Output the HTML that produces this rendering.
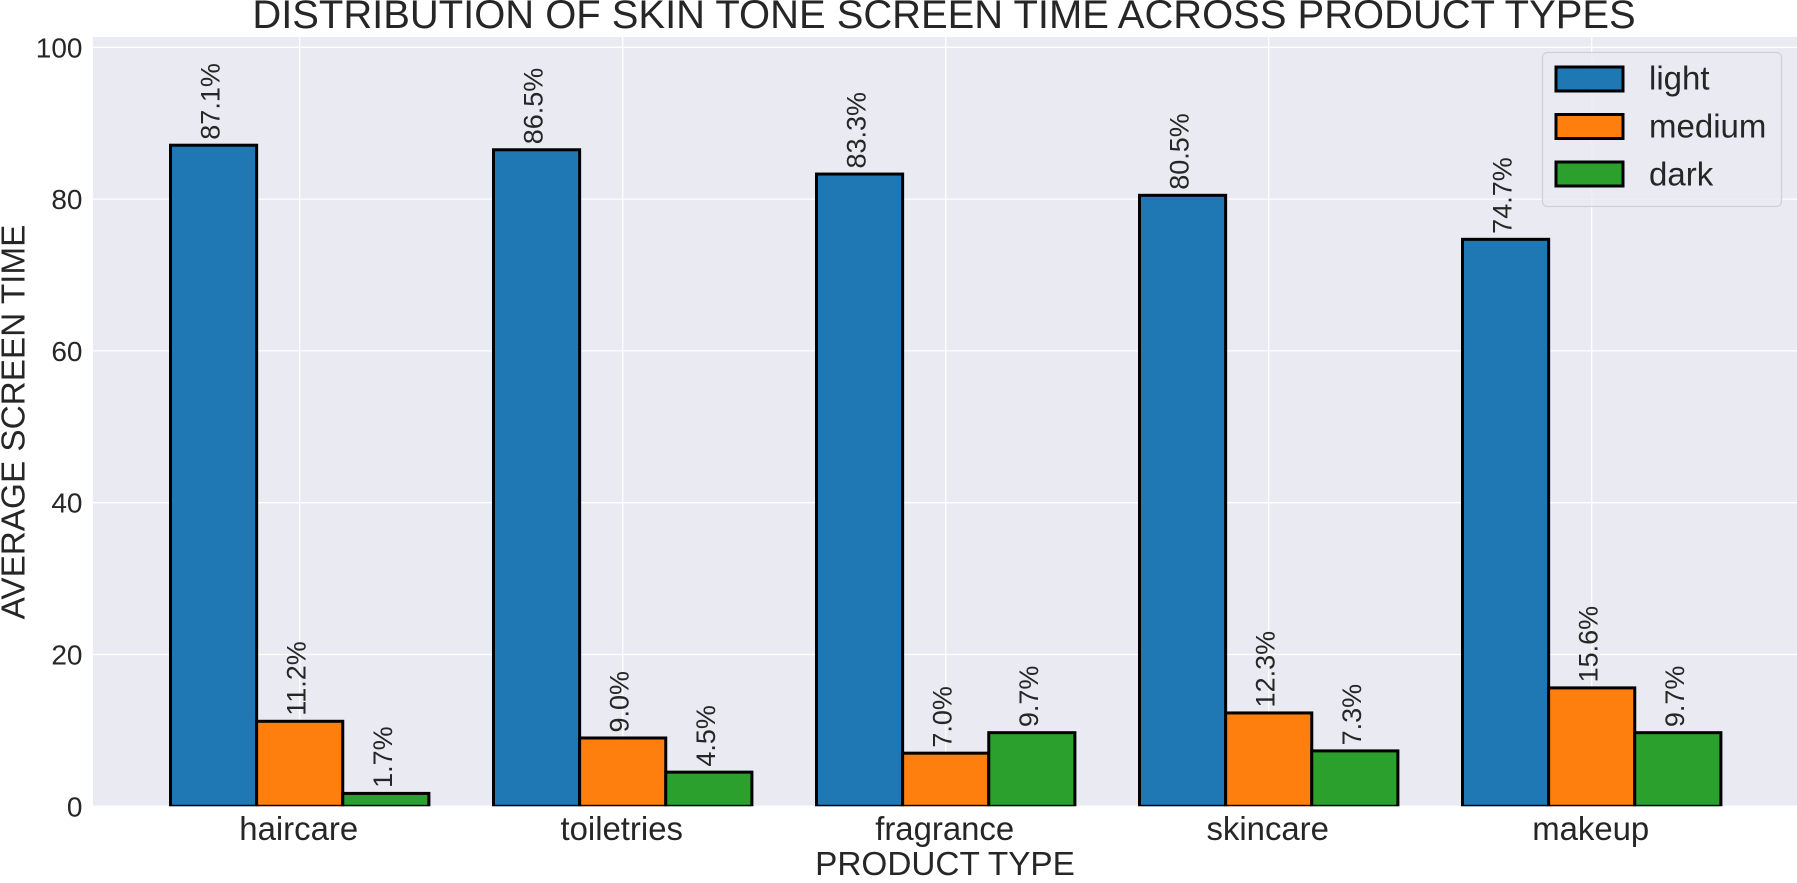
<!DOCTYPE html>
<html lang="en">
<head>
<meta charset="utf-8">
<title>Distribution of skin tone screen time across product types</title>
<style>
html,body{margin:0;padding:0;background:#fff;width:1797px;height:883px;overflow:hidden}
svg{display:block}
text{font-family:"Liberation Sans",Arial,sans-serif;fill:#262626}
</style>
</head>
<body>
<svg id="chart" xmlns="http://www.w3.org/2000/svg" width="1797" height="883" viewBox="0 0 1797 883">
  <defs><clipPath id="axes-clip"><rect x="93" y="37" width="1704" height="769.3"/></clipPath></defs>
  <rect x="93" y="37" width="1704" height="769.3" fill="#eaeaf2"/>
  <g id="grid"></g>
  <g id="bars" clip-path="url(#axes-clip)"></g>
  <g id="values"></g>
  <g id="yticks"></g>
  <g id="xticks"></g>
  <text x="944" y="28" font-size="39.95" text-anchor="middle">DISTRIBUTION OF SKIN TONE SCREEN TIME ACROSS PRODUCT TYPES</text>
  <text x="945" y="875" font-size="33.3" text-anchor="middle">PRODUCT TYPE</text>
  <text transform="translate(24.5 422) rotate(-90)" font-size="33.3" text-anchor="middle">AVERAGE SCREEN TIME</text>
  <g id="legend">
    <rect x="1542.5" y="52.5" width="239" height="154" rx="5" fill="#eaeaf2" fill-opacity="0.8" stroke="#cccccc" stroke-opacity="0.8" stroke-width="1.3"/>
  </g>
</svg>
<script>
const categories = ["haircare", "toiletries", "fragrance", "skincare", "makeup"];
const seriesNames = ["light", "medium", "dark"];
const light = [87.1, 86.5, 83.3, 80.5, 74.7];
const medium = [11.2, 9.0, 7.0, 12.3, 15.6];
const dark = [1.7, 4.5, 9.7, 7.3, 9.7];
const yTickValues = [0, 20, 40, 60, 80, 100];

const seriesValues = [light, medium, dark];
const colors = ["#1f77b4", "#ff7f0e", "#2ca02c"];
const NS = "http://www.w3.org/2000/svg";
const bandStep = 323;
const barWidth = bandStep * 0.8 / 3;
function xScale(i) { return 299.7 + bandStep * i; }
function yScale(v) { return 806.3 - v * 7.59; }
function make(tag, attrs, parent, txt) {
  const el = document.createElementNS(NS, tag);
  for (const k in attrs) el.setAttribute(k, attrs[k]);
  if (txt !== undefined) el.textContent = txt;
  parent.appendChild(el);
  return el;
}
const grid = document.getElementById("grid");
const bars = document.getElementById("bars");
const valuesG = document.getElementById("values");
const yticks = document.getElementById("yticks");
const xticks = document.getElementById("xticks");
const legend = document.getElementById("legend");

yTickValues.forEach(function (t) {
  const y = yScale(t);
  const line = make("line", {x1: 93, x2: 1797, y1: y, y2: y, stroke: "#fff", "stroke-width": 1.3}, grid);
  
  
  const lab = make("text", {x: 82.5, y: y + 10, "font-size": 28, "text-anchor": "end"}, yticks, String(t));
  
  
});

categories.forEach(function (c, i) {
  const x = xScale(i);
  const line = make("line", {x1: x, x2: x, y1: 37, y2: 806.3, stroke: "#fff", "stroke-width": 1.3}, grid);
  
  
  const lab = make("text", {x: x - 1, y: 840, "font-size": 32.9, "text-anchor": "middle"}, xticks, c);
  
  
});

seriesValues.forEach(function (vals, s) {
  vals.forEach(function (v, i) {
    const cx = xScale(i) + (s - 1) * barWidth;
    const top = yScale(v);
    const bar = make("rect", {x: cx - barWidth / 2, y: top, width: barWidth, height: yScale(0) - top, fill: colors[s], stroke: "#000", "stroke-width": 3}, bars);
    
    
    const bx = cx + 6;
    const by = top - 5.5;
    const lab = make("text", {transform: "translate(" + bx + " " + by + ") rotate(-90)", "font-size": 27}, valuesG, v.toFixed(1) + "%");
    
    
  });
});

seriesNames.forEach(function (n, s) {
  const top = 67 + s * 47.5;
  const sw = make("rect", {x: 1556, y: top, width: 67, height: 24, fill: colors[s], stroke: "#000", "stroke-width": 3}, legend);
  
  
  const lab = make("text", {x: 1649, y: 89.5 + s * 48, "font-size": 33}, legend, n);
  
  
});
</script>
</body>
</html>
